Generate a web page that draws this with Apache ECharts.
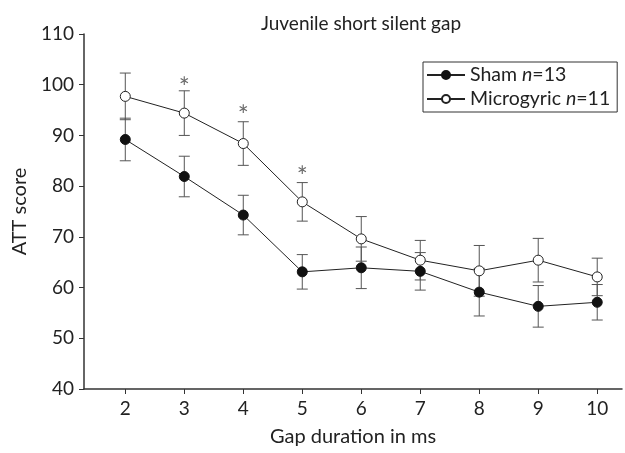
<!DOCTYPE html>
<html>
<head>
<meta charset="utf-8">
<script src="https://cdn.jsdelivr.net/npm/echarts@6/dist/echarts.min.js"></script>
<style>
html,body{margin:0;padding:0;background:#fff;}
#chart{width:625px;height:453px;}
</style>
</head>
<body>
<div id="chart"></div>
<script>
const xValues = [2, 3, 4, 5, 6, 7, 8, 9, 10];
const shamMean = [89.2, 81.9, 74.3, 63.1, 63.9, 63.2, 59.1, 56.3, 57.1];
const shamErr = [4.2, 4.0, 3.9, 3.4, 4.1, 3.7, 4.7, 4.1, 3.5];
const microMean = [97.7, 94.4, 88.4, 76.9, 69.6, 65.4, 63.3, 65.4, 62.1];
const microErr = [4.6, 4.4, 4.3, 3.8, 4.4, 3.9, 5.0, 4.3, 3.7];
const sigX = [3, 4, 5];
const sigY = [100.7, 95.0, 83.0];
const xTickLabels = [2, 3, 4, 5, 6, 7, 8, 9, 10];

const FONT = 'Lato';
const chart = echarts.init(document.getElementById('chart'));

function errData(mean, err) {
  return xValues.map((x, i) => [x, mean[i] - err[i], mean[i] + err[i]]);
}
function errRender(params, api) {
  const x = api.value(0), lo = api.value(1), hi = api.value(2);
  const p1 = api.coord([x, hi]);
  const p2 = api.coord([x, lo]);
  const w = 5.5;
  const st = { stroke: '#555', lineWidth: 1 };
  return {
    type: 'group',
    children: [
      { type: 'line', shape: { x1: p1[0], y1: p1[1], x2: p2[0], y2: p2[1] }, style: st },
      { type: 'line', shape: { x1: p1[0] - w, y1: p1[1], x2: p1[0] + w, y2: p1[1] }, style: st },
      { type: 'line', shape: { x1: p2[0] - w, y1: p2[1], x2: p2[0] + w, y2: p2[1] }, style: st }
    ]
  };
}

const option = {
  backgroundColor: '#fff',
  animation: false,
  title: {
    text: 'Juvenile short silent gap',
    left: 356, top: 9, textAlign: 'center',
    textStyle: { fontFamily: FONT, fontSize: 19, fontWeight: 'normal', color: '#222' }
  },
  legend: {
    orient: 'vertical',
    left: 423, top: 62,
    data: ['Sham', 'Microgyric'],
    borderColor: '#333', borderWidth: 1,
    padding: [3, 7, 3, 3],
    itemGap: 4,
    itemWidth: 38, itemHeight: 10,
    formatter: function (name) {
      return name === 'Sham' ? '{a|Sham }{i|n}{a|=13}' : '{a|Microgyric }{i|n}{a|=11}';
    },
    textStyle: {
      fontFamily: FONT, fontSize: 19.5, color: '#222',
      rich: {
        a: { fontFamily: FONT, fontSize: 19.5, color: '#222' },
        i: { fontFamily: FONT, fontSize: 19.5, fontStyle: 'italic', color: '#222' }
      }
    }
  },
  grid: { left: 84, right: 3, top: 34, bottom: 64, containLabel: false },
  xAxis: {
    type: 'value', min: 1.3, max: 10.42,
    name: 'Gap duration in ms', nameLocation: 'middle', nameGap: 38,
    nameTextStyle: { fontFamily: FONT, fontSize: 20, color: '#222' },
    axisLine: { lineStyle: { color: '#333', width: 1.5 } },
    axisTick: { show: true, length: 5, lineStyle: { color: '#333' }, customValues: xTickLabels },
    axisLabel: { margin: 10, fontFamily: FONT, fontSize: 19, color: '#222', customValues: xTickLabels },
    splitLine: { show: false }
  },
  yAxis: {
    type: 'value', min: 40, max: 110, interval: 10,
    name: 'ATT score', nameLocation: 'middle', nameGap: 50,
    nameTextStyle: { fontFamily: FONT, fontSize: 20, color: '#222' },
    axisLine: { show: true, lineStyle: { color: '#333', width: 1.5 } },
    axisTick: { show: true, length: 5, lineStyle: { color: '#333' } },
    axisLabel: { margin: 10, fontFamily: FONT, fontSize: 19, color: '#222' },
    splitLine: { show: false }
  },
  series: [
    {
      type: 'custom', name: 'ShamErr', renderItem: errRender,
      encode: { x: 0, y: [1, 2] }, data: errData(shamMean, shamErr), z: 1
    },
    {
      type: 'custom', name: 'MicroErr', renderItem: errRender,
      encode: { x: 0, y: [1, 2] }, data: errData(microMean, microErr), z: 1
    },
    {
      type: 'line', name: 'Sham',
      data: xValues.map((x, i) => [x, shamMean[i]]),
      symbol: 'circle', symbolSize: 10,
      lineStyle: { color: '#222', width: 1 },
      itemStyle: { color: '#111', borderColor: '#111', borderWidth: 1 },
      z: 3
    },
    {
      type: 'line', name: 'Microgyric',
      data: xValues.map((x, i) => [x, microMean[i]]),
      symbol: 'circle', symbolSize: 10,
      lineStyle: { color: '#222', width: 1 },
      itemStyle: { color: '#fff', borderColor: '#222', borderWidth: 1 },
      z: 3
    },
    {
      type: 'scatter', name: 'sig',
      data: sigX.map((x, i) => [x, sigY[i]]),
      symbol: 'circle', symbolSize: 2,
      itemStyle: { color: 'rgba(0,0,0,0)' },
      label: {
        show: true, position: 'inside', formatter: '*',
        fontFamily: FONT, fontSize: 26, color: '#444', offset: [0, 7]
      },
      z: 4
    }
  ]
};
chart.setOption(option);
</script>
</body>
</html>
